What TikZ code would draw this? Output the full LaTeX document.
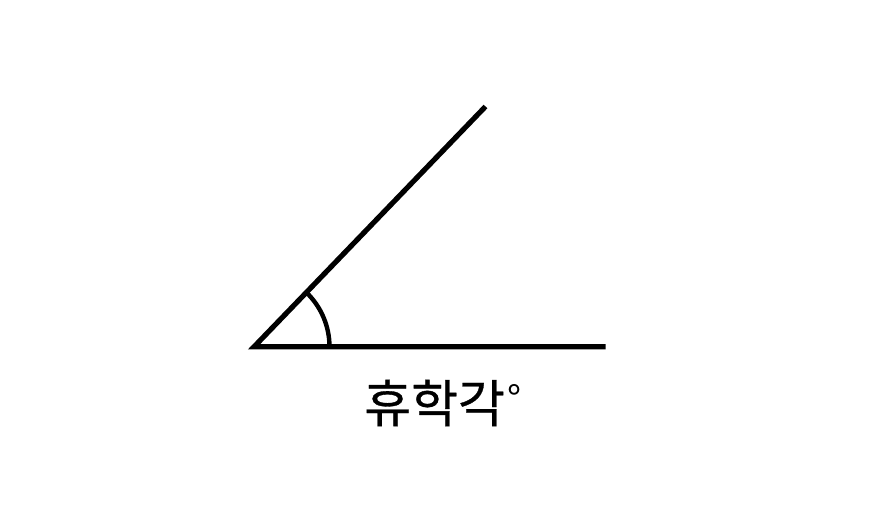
\documentclass[tikz,border=0pt]{standalone}
\usepackage{fontspec}
\newfontfamily\krfont[FakeBold=0.6]{Noto Sans CJK KR}
\newfontfamily\krthin{Noto Sans CJK KR}
\tikzset{
  edge/.style={line width=5.2pt, line join=miter, line cap=butt, black},
  anglearc/.style={line width=4.4pt, black},
  label/.style={font=\krfont\fontsize{51}{60}\selectfont, inner sep=0pt, anchor=west}
}
\begin{document}
\begin{tikzpicture}[x=1pt,y=-1pt]
\useasboundingbox (0,0) rectangle (880,528);
\coordinate (V) at (254,346.8);
\coordinate (A) at (485.5,106.5);
\coordinate (B) at (605.5,346.8);
\draw[edge] (A) -- (V) -- (B);
\draw[anglearc] (329.5,346.8) arc[start angle=0, end angle=-46, radius=75.5];
\node[label] (t) at (364,403) {휴학각\kern3pt\raisebox{9pt}{\krthin\fontsize{38}{40}\selectfont °}};
\end{tikzpicture}
\end{document}
